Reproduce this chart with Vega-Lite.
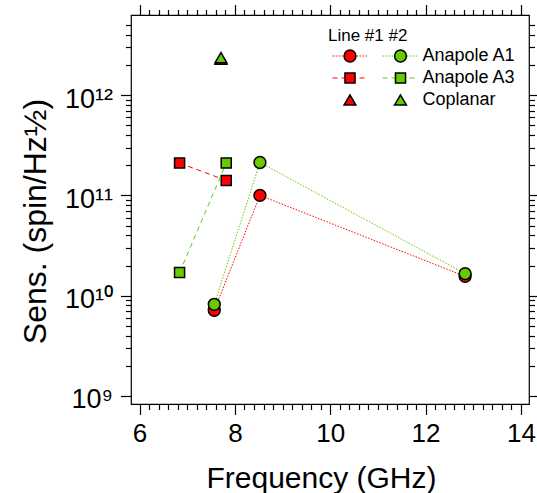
{
  "$schema": "https://vega.github.io/schema/vega-lite/v6.json",
  "width": 398,
  "height": 389,
  "autosize": {"type": "none"},
  "padding": {"left": 131, "top": 15, "right": 8, "bottom": 89},
  "background": "white",
  "config": {
    "view": {"stroke": "#000", "strokeWidth": 1.2},
    "font": "Liberation Sans",
    "axis": {
      "domain": false, "grid": false, "tickColor": "#000", "tickWidth": 1.2,
      "labelColor": "#000", "titleColor": "#000", "labelFont": "Liberation Sans",
      "titleFont": "Liberation Sans", "titleFontWeight": "normal"
    },
    "legend": {
      "titleFont": "Liberation Sans", "labelFont": "Liberation Sans", "titleFontWeight": "normal",
      "titleColor": "#000", "labelColor": "#000", "titleFontSize": 17, "labelFontSize": 18,
      "padding": 0, "rowPadding": 4, "titlePadding": 2, "orient": "none", "symbolSize": 121
    }
  },
  "datasets": {
    "pts": [
      {"series": "Anapole A1", "line": "#1", "freq": 7.567, "sens": 7.15e9},
      {"series": "Anapole A1", "line": "#1", "freq": 8.525, "sens": 1.0e11},
      {"series": "Anapole A1", "line": "#1", "freq": 12.83, "sens": 1.56e10},
      {"series": "Anapole A1", "line": "#2", "freq": 7.567, "sens": 8.2e9},
      {"series": "Anapole A1", "line": "#2", "freq": 8.525, "sens": 2.13e11},
      {"series": "Anapole A1", "line": "#2", "freq": 12.83, "sens": 1.66e10},
      {"series": "Anapole A3", "line": "#1", "freq": 6.839, "sens": 2.1e11},
      {"series": "Anapole A3", "line": "#1", "freq": 7.818, "sens": 1.41e11},
      {"series": "Anapole A3", "line": "#2", "freq": 6.839, "sens": 1.7e10},
      {"series": "Anapole A3", "line": "#2", "freq": 7.818, "sens": 2.1e11},
      {"series": "Coplanar", "line": "#1", "freq": 7.707, "sens": 2.28e12},
      {"series": "Coplanar", "line": "#2", "freq": 7.707, "sens": 2.36e12}
    ]
  },
  "data": {"name": "pts"},
  "layer": [
    {
      "transform": [{"filter": "datum.line == '#1' && datum.series != 'Coplanar'"}],
      "mark": {"type": "line", "color": "#FF0000", "strokeWidth": 1},
      "encoding": {
        "x": {"field": "freq", "type": "quantitative",
          "scale": {"domain": [5.82, 14.17], "nice": false, "zero": false},
          "axis": {"orient": "bottom", "values": [6, 8, 10, 12, 14], "tickSize": 10.5, "labelFontSize": 26, "labelPadding": 6,
            "title": "Frequency (GHz)", "titleFontSize": 30, "titleX": 190, "titleY": 83, "titleBaseline": "alphabetic", "titleAlign": "center", "titleAnchor": null}},
        "y": {"field": "sens", "type": "quantitative",
          "scale": {"type": "log", "domain": [8.32e8, 6.29e12], "nice": false},
          "axis": {"orient": "left", "values": [1e9, 1e10, 1e11, 1e12], "tickSize": 10.5, "labelFontSize": 27, "labelPadding": 8, "labelOffset": 4,
            "labelExpr": "datum.value < 5e9 ? '10⁹' : datum.value < 5e10 ? '10¹⁰' : datum.value < 5e11 ? '10¹¹' : '10¹²'",
            "title": "Sens. (spin/Hz½)", "titleFontSize": 32, "titleX": -86, "titleY": 206, "titleAngle": 270, "titleBaseline": "alphabetic", "titleAlign": "center", "titleAnchor": null}},
        "detail": {"field": "series"},
        "strokeDash": {"field": "series", "type": "nominal",
          "scale": {"range": [[1.5, 1.5], [5, 4]]},
          "legend": {"title": "Line #1 #2", "legendX": 197, "legendY": 13, "symbolType": "M-0.82,0H5.55", "symbolStrokeColor": "#FF0000",
            "symbolFillColor": "transparent", "symbolStrokeWidth": 1, "labelOpacity": 0}}
      }
    },
    {
      "transform": [{"filter": "datum.line == '#1'"}],
      "mark": {"type": "point", "filled": false, "fill": "#FF0000", "fillOpacity": 1, "stroke": "#000", "strokeWidth": 1.5, "opacity": 1, "size": 140},
      "encoding": {
        "x": {"field": "freq", "type": "quantitative",
          "scale": {"domain": [5.82, 14.17], "nice": false, "zero": false},
          "axis": {"orient": "top", "values": [6, 8, 10, 12, 14], "tickSize": 10.5, "labels": false, "title": null}},
        "y": {"field": "sens", "type": "quantitative",
          "scale": {"type": "log", "domain": [8.32e8, 6.29e12], "nice": false},
          "axis": {"orient": "right", "values": [1e9, 1e10, 1e11, 1e12], "tickSize": 10.5, "labels": false, "title": null}},
        "shape": {"field": "series", "type": "nominal",
          "scale": {"range": ["circle", "M-0.85,-0.85H0.85V0.85H-0.85Z", "triangle-up"]},
          "legend": {"title": "Line #1 #2", "titleOpacity": 0, "labelOpacity": 0, "legendX": 210, "legendY": 13, "symbolSize": 140,
            "symbolStrokeWidth": 1.5,
            "encode": {"symbols": {"fill": {"value": "#FF0000"}, "stroke": {"value": "#000"}, "strokeWidth": {"value": 1.5}, "fillOpacity": {"value": 1}}}}}
      }
    },
    {
      "transform": [{"filter": "datum.line == '#2' && datum.series != 'Coplanar'"}],
      "mark": {"type": "line", "color": "#66CC00", "strokeWidth": 1},
      "encoding": {
        "x": {"field": "freq", "type": "quantitative",
          "scale": {"domain": [5.82, 14.17], "nice": false, "zero": false},
          "axis": {"orient": "bottom", "values": [6.2, 6.4, 6.6, 6.8, 7.2, 7.4, 7.6, 7.8, 8.2, 8.4, 8.6, 8.8, 9.2, 9.4, 9.6, 9.8, 10.2, 10.4, 10.6, 10.8, 11.2, 11.4, 11.6, 11.8, 12.2, 12.4, 12.6, 12.8, 13.2, 13.4, 13.6, 13.8, 7, 9, 11, 13],
            "tickSize": 5.5, "labels": false, "title": null}},
        "y": {"field": "sens", "type": "quantitative",
          "scale": {"type": "log", "domain": [8.32e8, 6.29e12], "nice": false},
          "axis": {"orient": "left", "values": [2e9, 3e9, 4e9, 5e9, 6e9, 7e9, 8e9, 9e9, 2e10, 3e10, 4e10, 5e10, 6e10, 7e10, 8e10, 9e10, 2e11, 3e11, 4e11, 5e11, 6e11, 7e11, 8e11, 9e11, 2e12, 3e12, 4e12, 5e12],
            "tickSize": 5.5, "labels": false, "title": null}},
        "detail": {"field": "series"},
        "strokeDash": {"field": "series", "type": "nominal",
          "scale": {"range": [[1.5, 1.5], [5, 4]]},
          "legend": {"title": "Line #1 #2", "titleOpacity": 0, "legendX": 260.5, "legendY": 13, "symbolType": "M-3.27,0H3.27", "symbolStrokeColor": "#66CC00",
            "symbolFillColor": "transparent", "symbolStrokeWidth": 1, "labelOpacity": 0}}
      }
    },
    {
      "transform": [{"filter": "datum.line == '#2'"}],
      "mark": {"type": "point", "filled": false, "fill": "#66CC00", "fillOpacity": 1, "stroke": "#000", "strokeWidth": 1.5, "opacity": 1, "size": 140},
      "encoding": {
        "x": {"field": "freq", "type": "quantitative",
          "scale": {"domain": [5.82, 14.17], "nice": false, "zero": false},
          "axis": {"orient": "top", "values": [6.2, 6.4, 6.6, 6.8, 7.2, 7.4, 7.6, 7.8, 8.2, 8.4, 8.6, 8.8, 9.2, 9.4, 9.6, 9.8, 10.2, 10.4, 10.6, 10.8, 11.2, 11.4, 11.6, 11.8, 12.2, 12.4, 12.6, 12.8, 13.2, 13.4, 13.6, 13.8, 7, 9, 11, 13],
            "tickSize": 5.5, "labels": false, "title": null}},
        "y": {"field": "sens", "type": "quantitative",
          "scale": {"type": "log", "domain": [8.32e8, 6.29e12], "nice": false},
          "axis": {"orient": "right", "values": [2e9, 3e9, 4e9, 5e9, 6e9, 7e9, 8e9, 9e9, 2e10, 3e10, 4e10, 5e10, 6e10, 7e10, 8e10, 9e10, 2e11, 3e11, 4e11, 5e11, 6e11, 7e11, 8e11, 9e11, 2e12, 3e12, 4e12, 5e12],
            "tickSize": 5.5, "labels": false, "title": null}},
        "shape": {"field": "series", "type": "nominal",
          "scale": {"range": ["circle", "M-0.85,-0.85H0.85V0.85H-0.85Z", "triangle-up"]},
          "legend": {"title": "Line #1 #2", "titleOpacity": 0, "legendX": 260.5, "legendY": 13, "labelOffset": 13, "symbolSize": 140,
            "symbolStrokeWidth": 1.5,
            "encode": {"symbols": {"fill": {"value": "#66CC00"}, "stroke": {"value": "#000"}, "strokeWidth": {"value": 1.5}, "fillOpacity": {"value": 1}}}}}
      }
    }
  ],
  "resolve": {
    "scale": {"shape": "independent", "strokeDash": "independent"},
    "axis": {"x": "independent", "y": "independent"},
    "legend": {"shape": "independent", "strokeDash": "independent"}
  }
}
